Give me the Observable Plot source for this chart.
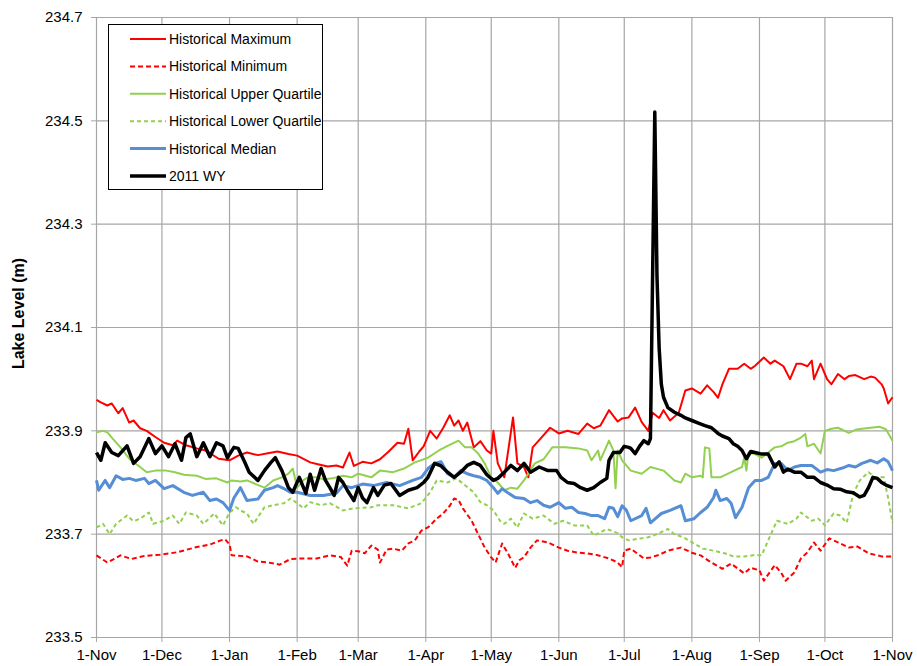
<!DOCTYPE html>
<html><head><meta charset="utf-8">
<script src="https://cdn.jsdelivr.net/npm/d3@7"></script>
<script src="https://cdn.jsdelivr.net/npm/@observablehq/plot@0.6"></script>
<style>
body{margin:0;background:#fff;font-family:"Liberation Sans",Arial,sans-serif;}
#wrap{position:relative;width:917px;height:666px;}
#legend{position:absolute;left:108px;top:24px;width:213px;height:164px;border:1px solid #000;background:#fff;}
#legend svg{display:block;}
</style></head><body><div id="wrap"></div>
<script>
// ---- data (day offset from 1-Nov-2010, lake level m) ----
const monthTickDays = [0,30,61,92,120,151,181,212,242,273,304,334,365];
const monthLabels = ["1-Nov","1-Dec","1-Jan","1-Feb","1-Mar","1-Apr","1-May","1-Jun","1-Jul","1-Aug","1-Sep","1-Oct","1-Nov"];
const yTicks = [233.5,233.7,233.9,234.1,234.3,234.5,234.7];
const yLabel = "Lake Level (m)";
const seriesNames = ["Historical Maximum","Historical Minimum","Historical Upper Quartile","Historical Lower Quartile","Historical Median","2011 WY"];

const histMax = [[0,233.96],[2,233.955],[5,233.949],[7,233.953],[10,233.934],[12,233.944],[15,233.916],[17,233.92],[20,233.905],[23,233.9],[27,233.888],[31,233.877],[35,233.872],[37,233.881],[41,233.872],[46,233.866],[50,233.862],[56,233.846],[61,233.843],[65,233.852],[69,233.858],[74,233.853],[78,233.856],[83,233.86],[88,233.855],[92,233.852],[98,233.839],[102,233.835],[106,233.831],[110,233.833],[113,233.829],[116,233.858],[118,233.832],[122,233.84],[126,233.837],[130,233.845],[134,233.86],[138,233.877],[141,233.875],[143,233.904],[145,233.843],[148,233.86],[150,233.87],[153,233.9],[156,233.885],[159,233.906],[162,233.93],[164,233.91],[166,233.92],[168,233.9],[170,233.916],[173,233.868],[176,233.88],[179,233.862],[181,233.856],[182,233.9],[184,233.837],[187,233.81],[189,233.868],[191,233.926],[193,233.837],[196,233.83],[198,233.81],[200,233.868],[204,233.887],[208,233.906],[212,233.895],[216,233.9],[221,233.894],[225,233.914],[228,233.905],[231,233.91],[235,233.94],[239,233.918],[241,233.924],[244,233.926],[247,233.945],[250,233.917],[253,233.9],[255,233.935],[258,233.925],[260,233.94],[263,233.92],[267,233.935],[270,233.978],[273,233.982],[277,233.972],[280,233.988],[283,233.975],[285,233.964],[287,233.99],[290,234.02],[294,234.02],[297,234.03],[300,234.02],[302,234.026],[306,234.042],[309,234.03],[311,234.036],[315,234.025],[318,234.0],[321,234.03],[323,234.03],[326,234.025],[328,234.036],[329,234.0],[332,234.03],[335,234.0],[337,233.99],[340,234.01],[343,234.0],[345,234.006],[348,234.008],[352,234.0],[355,234.005],[357,234.003],[360,233.99],[361,233.982],[363,233.953],[365,233.965]];

const histMin = [[0,233.659],[5,233.645],[11,233.659],[16,233.652],[22,233.658],[29,233.66],[37,233.665],[45,233.674],[52,233.68],[57,233.688],[59,233.69],[61,233.68],[62,233.659],[69,233.657],[74,233.647],[79,233.645],[84,233.641],[89,233.652],[95,233.653],[101,233.653],[107,233.659],[112,233.656],[115,233.639],[117,233.668],[120,233.667],[123,233.663],[126,233.678],[129,233.67],[130,233.645],[133,233.67],[136,233.672],[140,233.668],[143,233.682],[146,233.688],[149,233.707],[152,233.713],[156,233.73],[159,233.74],[162,233.755],[164,233.769],[166,233.766],[168,233.75],[172,233.726],[175,233.7],[178,233.674],[181,233.655],[183,233.645],[186,233.682],[189,233.66],[192,233.635],[194,233.65],[196,233.655],[199,233.674],[202,233.688],[207,233.684],[212,233.674],[216,233.668],[221,233.664],[225,233.663],[230,233.659],[235,233.653],[239,233.645],[241,233.636],[242,233.668],[245,233.672],[251,233.653],[254,233.655],[258,233.66],[262,233.668],[268,233.674],[273,233.664],[277,233.659],[282,233.645],[287,233.633],[291,233.643],[297,233.624],[300,233.635],[304,233.63],[306,233.61],[311,233.64],[314,233.625],[316,233.61],[320,233.626],[323,233.653],[326,233.665],[329,233.684],[332,233.668],[336,233.692],[340,233.684],[345,233.674],[349,233.676],[354,233.663],[360,233.657],[365,233.657]];

const histUpperQ = [[0,233.897],[3,233.9],[5,233.897],[7,233.887],[11,233.868],[15,233.846],[20,233.83],[23,233.82],[27,233.823],[32,233.823],[36,233.82],[40,233.815],[46,233.813],[50,233.807],[55,233.808],[60,233.8],[62,233.804],[66,233.802],[69,233.804],[73,233.797],[77,233.79],[81,233.804],[85,233.81],[88,233.817],[90,233.827],[92,233.79],[95,233.805],[97,233.81],[101,233.81],[104,233.806],[108,233.808],[113,233.813],[117,233.81],[120,233.817],[126,233.81],[130,233.823],[136,233.82],[141,233.827],[146,233.839],[152,233.848],[157,233.862],[161,233.871],[166,233.881],[169,233.868],[172,233.868],[175,233.856],[178,233.837],[181,233.81],[184,233.8],[187,233.785],[190,233.79],[193,233.788],[196,233.804],[201,233.837],[205,233.845],[209,233.868],[215,233.868],[221,233.866],[225,233.862],[227,233.843],[230,233.862],[231,233.843],[235,233.881],[237,233.862],[238,233.789],[239,233.862],[241,233.843],[245,233.823],[250,233.817],[254,233.83],[260,233.823],[265,233.804],[268,233.8],[270,233.817],[273,233.81],[277,233.813],[278,233.81],[279,233.868],[281,233.866],[282,233.81],[286,233.81],[291,233.82],[296,233.83],[297,233.848],[298,233.823],[299,233.858],[302,233.855],[305,233.848],[308,233.858],[311,233.868],[314,233.87],[317,233.877],[320,233.88],[323,233.887],[325,233.894],[326,233.87],[329,233.875],[332,233.856],[334,233.9],[337,233.904],[340,233.906],[345,233.896],[348,233.902],[351,233.904],[355,233.906],[359,233.908],[362,233.903],[365,233.881]];

const histLowerQ = [[0,233.713],[3,233.72],[6,233.7],[9,233.72],[14,233.736],[17,233.725],[20,233.73],[24,233.742],[26,233.72],[31,233.726],[35,233.736],[38,233.72],[41,233.742],[46,233.736],[49,233.72],[54,233.74],[58,233.717],[61,233.742],[64,233.752],[66,233.746],[69,233.74],[72,233.72],[77,233.752],[81,233.756],[86,233.76],[89,233.769],[92,233.76],[95,233.75],[98,233.762],[103,233.756],[107,233.76],[113,233.746],[118,233.75],[126,233.752],[129,233.756],[136,233.756],[143,233.75],[149,233.76],[153,233.781],[156,233.804],[161,233.8],[165,233.808],[168,233.798],[173,233.781],[176,233.762],[179,233.756],[182,233.746],[185,233.726],[187,233.72],[190,233.73],[193,233.713],[196,233.74],[200,233.73],[205,233.736],[210,233.72],[214,233.726],[219,233.717],[225,233.717],[228,233.697],[234,233.71],[239,233.702],[241,233.694],[244,233.688],[247,233.69],[253,233.694],[257,233.7],[262,233.71],[265,233.7],[269,233.694],[274,233.682],[278,233.672],[283,233.668],[288,233.663],[292,233.657],[297,233.657],[301,233.659],[305,233.659],[308,233.688],[312,233.726],[317,233.72],[321,233.73],[323,233.742],[328,233.726],[331,233.73],[334,233.717],[338,233.74],[341,233.736],[344,233.722],[347,233.778],[350,233.804],[354,233.82],[357,233.81],[361,233.81],[363,233.77],[365,233.722]];

const histMedian = [[0,233.804],[1,233.785],[4,233.804],[6,233.79],[9,233.813],[12,233.806],[15,233.808],[18,233.804],[22,233.808],[24,233.798],[27,233.804],[31,233.788],[35,233.794],[40,233.781],[44,233.775],[49,233.781],[52,233.765],[55,233.768],[58,233.761],[61,233.746],[63,233.77],[66,233.79],[69,233.765],[74,233.768],[77,233.785],[81,233.79],[83,233.794],[86,233.788],[89,233.781],[92,233.781],[98,233.775],[104,233.775],[110,233.779],[113,233.794],[117,233.79],[122,233.797],[127,233.794],[133,233.8],[139,233.794],[145,233.804],[149,233.81],[152,233.827],[155,233.837],[158,233.84],[161,233.817],[164,233.81],[167,233.823],[170,233.817],[173,233.813],[176,233.81],[179,233.804],[182,233.79],[184,233.779],[186,233.788],[189,233.779],[192,233.771],[196,233.769],[199,233.761],[202,233.765],[205,233.756],[208,233.752],[212,233.761],[215,233.75],[218,233.752],[221,233.742],[224,233.74],[227,233.736],[230,233.736],[233,233.73],[235,233.752],[237,233.75],[239,233.734],[241,233.755],[243,233.746],[245,233.726],[250,233.736],[252,233.75],[254,233.722],[259,233.74],[263,233.746],[268,233.755],[270,233.726],[274,233.73],[277,233.742],[280,233.752],[283,233.771],[284,233.785],[286,233.765],[289,233.769],[291,233.76],[293,233.732],[296,233.752],[299,233.79],[302,233.804],[305,233.804],[308,233.81],[311,233.837],[314,233.837],[317,233.823],[320,233.83],[323,233.833],[328,233.833],[332,233.82],[335,233.825],[338,233.823],[342,233.828],[345,233.833],[348,233.83],[351,233.837],[355,233.843],[358,233.838],[361,233.846],[363,233.84],[365,233.823]];

const wy2011 = [[0,233.858],[2,233.843],[4,233.877],[7,233.858],[10,233.852],[14,233.871],[17,233.837],[20,233.85],[24,233.885],[27,233.856],[30,233.871],[33,233.85],[36,233.875],[39,233.843],[41,233.887],[43,233.894],[46,233.85],[49,233.877],[52,233.85],[55,233.877],[58,233.871],[60,233.848],[63,233.868],[65,233.866],[68,233.839],[70,233.82],[74,233.804],[77,233.823],[80,233.839],[82,233.848],[85,233.823],[88,233.79],[90,233.781],[93,233.81],[96,233.779],[98,233.816],[100,233.785],[103,233.827],[105,233.804],[107,233.79],[109,233.775],[111,233.81],[113,233.8],[115,233.785],[118,233.765],[120,233.79],[122,233.77],[124,233.761],[127,233.79],[129,233.775],[132,233.795],[135,233.798],[139,233.775],[143,233.785],[147,233.79],[150,233.8],[152,233.81],[155,233.837],[158,233.832],[161,233.82],[164,233.81],[167,233.82],[170,233.833],[173,233.839],[176,233.833],[179,233.815],[182,233.804],[184,233.808],[187,233.82],[190,233.833],[193,233.823],[196,233.837],[199,233.82],[203,233.83],[207,233.823],[211,233.823],[213,233.81],[216,233.8],[219,233.798],[222,233.79],[225,233.785],[228,233.79],[231,233.8],[234,233.808],[235,233.843],[237,233.858],[240,233.858],[242,233.87],[244,233.868],[245,233.866],[247,233.856],[249,233.87],[251,233.881],[253,233.875],[254,233.885],[256,234.517],[257,234.2],[258,234.06],[259,233.99],[260,233.965],[262,233.945],[265,233.936],[268,233.93],[270,233.925],[273,233.92],[276,233.915],[279,233.91],[282,233.906],[285,233.895],[287,233.89],[290,233.885],[292,233.875],[294,233.87],[296,233.862],[298,233.846],[300,233.86],[302,233.858],[305,233.855],[308,233.855],[311,233.83],[313,233.84],[315,233.82],[317,233.826],[320,233.82],[323,233.82],[326,233.81],[329,233.81],[332,233.8],[335,233.795],[338,233.788],[341,233.787],[344,233.782],[347,233.78],[350,233.772],[352,233.775],[354,233.79],[356,233.81],[358,233.808],[360,233.8],[362,233.795],[365,233.79]];

// ---- styles ----
const seriesStyles = [
  {stroke:"#ff0000", strokeWidth:2, dash:null},
  {stroke:"#ff0000", strokeWidth:2, dash:"5,3"},
  {stroke:"#92d050", strokeWidth:2, dash:null},
  {stroke:"#92d050", strokeWidth:2, dash:"4,3"},
  {stroke:"#558ed5", strokeWidth:3, dash:null},
  {stroke:"#000000", strokeWidth:3.5, dash:null}
];
const seriesData = [histMax, histMin, histUpperQ, histLowerQ, histMedian, wy2011];

const day0 = Date.UTC(2010, 10, 1);
const toDate = d => new Date(day0 + d * 864e5);
const tickDates = monthTickDays.map(toDate);
const labelByTime = new Map(tickDates.map((d, i) => [+d, monthLabels[i]]));

const tables = seriesData.map((arr, i) => arr.map(([d, v]) => ({series: seriesNames[i], date: toDate(d), level: v})));

const gridColor = "#a6a6a6";
const font = "'Liberation Sans', Arial, sans-serif";

const chart = Plot.plot({
  width: 917, height: 666,
  marginLeft: 96, marginRight: 25, marginTop: 17, marginBottom: 29,
  style: {fontFamily: font, fontSize: "15px", color: "#000", background: "#fff", overflow: "visible"},
  x: {type: "utc", domain: [toDate(0), toDate(365)]},
  y: {domain: [yTicks[0], yTicks[yTicks.length - 1]]},
  marks: [
    Plot.gridX(tickDates, {stroke: gridColor, strokeOpacity: 1, strokeWidth: 1.2}),
    Plot.gridY(yTicks, {stroke: gridColor, strokeOpacity: 1, strokeWidth: 1.2}),
    Plot.axisX(tickDates, {tickFormat: d => labelByTime.get(+d), tickSize: 5, tickPadding: 7, stroke: gridColor, fill: "#000", fontSize: 15, label: null}),
    Plot.axisY(yTicks, {tickFormat: d => d.toFixed(1), tickSize: 5, tickPadding: 9, stroke: gridColor, fill: "#000", fontSize: 15, label: null}),
    Plot.text([yLabel], {frameAnchor: "left", text: d => d, rotate: -90, dx: -78, dy: -14, textAnchor: "middle", fontWeight: "bold", fontSize: 16, fill: "#000"}),
    ...tables.map((t, i) => Plot.line(t, {
      x: "date", y: "level",
      stroke: seriesStyles[i].stroke, strokeWidth: seriesStyles[i].strokeWidth,
      strokeDasharray: seriesStyles[i].dash || undefined,
      strokeLinejoin: "round", strokeLinecap: "butt"
    }))
  ]
});

const wrap = document.getElementById("wrap");
wrap.appendChild(chart);

// ---- legend (overlaid box, as in the original chart) ----
const legend = document.createElement("div");
legend.id = "legend";
const ns = "http://www.w3.org/2000/svg";
const lsvg = document.createElementNS(ns, "svg");
lsvg.setAttribute("width", 213); lsvg.setAttribute("height", 164);
seriesNames.forEach((name, i) => {
  const cy = 14 + i * 27.4;
  const ln = document.createElementNS(ns, "line");
  ln.setAttribute("x1", 21); ln.setAttribute("x2", 57);
  ln.setAttribute("y1", cy); ln.setAttribute("y2", cy);
  ln.setAttribute("stroke", seriesStyles[i].stroke);
  ln.setAttribute("stroke-width", seriesStyles[i].strokeWidth);
  if (seriesStyles[i].dash) ln.setAttribute("stroke-dasharray", seriesStyles[i].dash);
  lsvg.appendChild(ln);
  const tx = document.createElementNS(ns, "text");
  tx.setAttribute("x", 60); tx.setAttribute("y", cy);
  tx.setAttribute("dy", "0.35em");
  tx.setAttribute("font-family", font);
  tx.setAttribute("font-size", 14);
  tx.setAttribute("fill", "#000");
  tx.textContent = name;
  lsvg.appendChild(tx);
});
legend.appendChild(lsvg);
wrap.appendChild(legend);
</script>
</body></html>
